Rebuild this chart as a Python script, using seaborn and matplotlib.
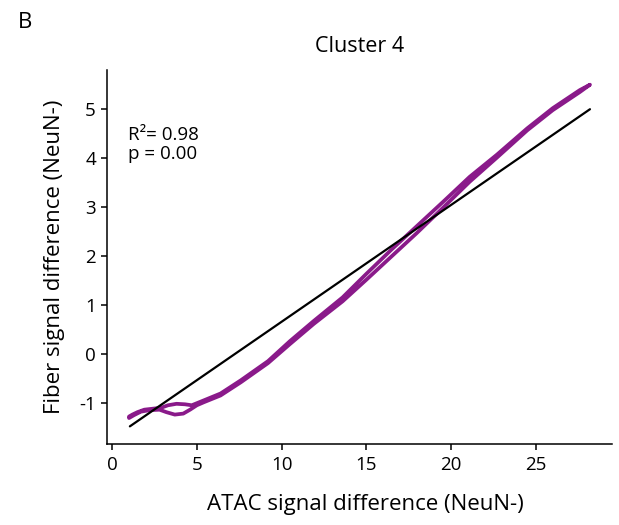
import matplotlib
matplotlib.use("Agg")
import matplotlib.pyplot as plt
import seaborn as sns
import pandas as pd

# ---- data ----
fwd_x = [1.00, 1.3, 1.7, 2.2, 2.8, 3.2, 3.7, 4.2, 4.6, 5.0, 5.4, 6.4, 7.6, 9.2, 10.5, 11.9,
         13.6, 15.0, 16.5, 18.0, 19.5, 21.1, 22.7, 24.5, 26.0, 27.6, 28.2]
fwd_y = [-1.30, -1.24, -1.17, -1.14, -1.13, -1.18, -1.23, -1.21, -1.13, -1.04, -0.98, -0.84,
         -0.57, -0.18, 0.21, 0.62, 1.08, 1.52, 2.00, 2.48, 2.98, 3.52, 4.01, 4.57, 4.98, 5.35, 5.50]
ret_x = [28.2, 27.6, 26.0, 24.5, 22.7, 21.1, 19.5, 18.0, 16.5, 15.0, 13.6, 11.9, 10.5, 9.2,
         7.6, 6.4, 5.2, 4.7, 4.3, 3.8, 3.3, 2.9, 2.4, 1.9, 1.5, 1.2, 1.0]
ret_y = [5.50, 5.39, 5.02, 4.61, 4.07, 3.62, 3.10, 2.62, 2.14, 1.64, 1.16, 0.68, 0.27, -0.14,
         -0.53, -0.80, -0.97, -1.04, -1.02, -1.01, -1.04, -1.09, -1.11, -1.13, -1.18, -1.23, -1.27]
fit_x = [1.05, 28.2]
fit_y = [-1.47, 5.00]
x_ticks = [0, 5, 10, 15, 20, 25]
y_ticks = [-1, 0, 1, 2, 3, 4, 5]
r2_text = "R\u00b2= 0.98"
p_text = "p = 0.00"
title = "Cluster 4"
xlabel = "ATAC signal difference (NeuN-)"
ylabel = "Fiber signal difference (NeuN-)"
panel = "B"

sns.set_theme(style="ticks")
plt.rcParams['font.family'] = ['Open Sans', 'DejaVu Sans']

fig = plt.figure(figsize=(6.19, 5.25), dpi=100)
ax = fig.add_axes([107/619, 1-444/525, (612-107)/619, (444-70)/525])

loop = pd.DataFrame({"x": fwd_x + ret_x, "y": fwd_y + ret_y})
fit = pd.DataFrame({"x": fit_x, "y": fit_y})

sns.lineplot(data=loop, x="x", y="y", sort=False, estimator=None, ax=ax,
             color="#8a1a8a", lw=2.7, solid_joinstyle="round", solid_capstyle="round")
sns.lineplot(data=fit, x="x", y="y", sort=False, estimator=None, ax=ax,
             color="black", lw=1.6)

ax.set_xlim(-0.3, 29.5)
ax.set_ylim(-1.83, 5.8)
ax.set_xticks(x_ticks)
ax.set_yticks(y_ticks)
ax.set_xticklabels([str(t) for t in x_ticks])
ax.set_yticklabels([str(t) for t in y_ticks])
for s in ["top", "right"]:
    ax.spines[s].set_visible(False)
for s in ["left", "bottom"]:
    ax.spines[s].set_linewidth(1.1)
    ax.spines[s].set_color("black")
ax.tick_params(axis="both", direction="out", length=4, width=1.1, color="black",
               labelsize=13.5, labelcolor="black")
ax.tick_params(axis="x", pad=5)
ax.tick_params(axis="y", pad=4)

ax.set_xlabel(xlabel, fontsize=16, labelpad=15, color="black")
ax.xaxis.set_label_coords(0.511, -0.135)
ax.set_ylabel(ylabel, fontsize=16, labelpad=10, color="black")
ax.set_title(title, fontsize=15.5, pad=13, color="black")

ax.text(0.95, 4.37, r2_text, fontsize=13.5, va="baseline", ha="left", color="black")
ax.text(0.95, 3.98, p_text, fontsize=13.5, va="baseline", ha="left", color="black")

fig.text(18/619, 1-28/525, panel, fontsize=16, va="baseline", ha="left", color="black")

fig.savefig("out.png", dpi=100)
